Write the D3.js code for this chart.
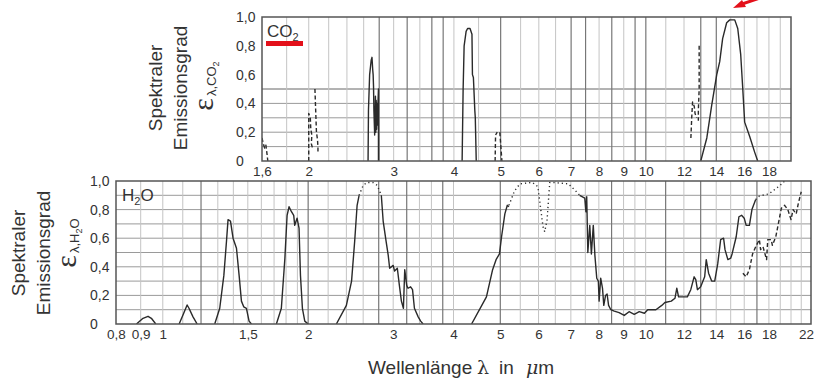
<!DOCTYPE html>
<html>
<head>
<meta charset="utf-8">
<script src="https://cdn.jsdelivr.net/npm/d3@7/dist/d3.min.js"></script>
<style>
  body { margin: 0; background: #fff; }
  svg text { font-family: Arial, "Liberation Sans", sans-serif; fill: #333; }
</style>
</head>
<body>
<svg id="chart" width="817" height="380"></svg>
<script>
// --- tick labels ---
const co2TicksX = [1.6, 2, 3, 4, 5, 6, 7, 8, 9, 10, 12, 14, 16, 18];
const h2oTicksX = [0.8, 0.9, 1, 1.5, 2, 3, 4, 5, 6, 7, 8, 9, 10, 12, 14, 16, 18, 22];
const ticksY = [0, 0.2, 0.4, 0.6, 0.8, 1.0];

// --- grid lines ---
const co2GridX = [1.8, 2, 2.2, 2.4, 2.6, 2.8, 3, 3.2, 3.4, 3.6, 3.8, 4, 4.5, 5, 5.5, 6, 6.5, 7, 7.5, 8, 8.5, 9, 9.5, 10, 11, 12, 13, 14, 15, 16, 17, 18, 19];
const co2GridDark = [2.8, 3.2, 3.6, 3.8, 5, 7, 7.5, 8.5, 9.5, 10, 13, 14];
const co2GridY = [0.1, 0.2, 0.3, 0.4, 0.5];
const h2oGridX = [0.9, 1, 1.1, 1.2, 1.3, 1.4, 1.5, 1.6, 1.7, 1.8, 1.9, 2, 2.2, 2.4, 2.6, 2.8, 3, 3.2, 3.4, 3.6, 3.8, 4, 5, 5.5, 6, 6.5, 7, 7.5, 8, 8.5, 9, 9.5, 10, 11, 12, 13, 14, 15, 16, 17, 18, 19, 20, 21];
const h2oGridDark = [1.2, 2, 2.8, 3.2, 3.8, 5, 8.5, 11, 13, 17];
const h2oGridY = [0.1, 0.2, 0.3, 0.4, 0.5, 0.6, 0.7, 0.8, 0.9];

// --- CO2 spectral emissivity [lambda µm, eps] ---
const co2Band27 = [[2.655, 0], [2.66, 0.35], [2.675, 0.6], [2.695, 0.7], [2.705, 0.72], [2.715, 0.63], [2.72, 0.6], [2.725, 0.52],
  [2.73, 0.35], [2.74, 0.18], [2.745, 0.3], [2.75, 0.45], [2.755, 0.2], [2.76, 0.42], [2.765, 0.22], [2.77, 0.4],
  [2.775, 0.25], [2.78, 0.35], [2.79, 0.5], [2.79, 0]];
const co2Band43 = [[4.16, 0], [4.18, 0.5], [4.2, 0.8], [4.24, 0.9], [4.27, 0.92], [4.32, 0.92], [4.36, 0.88], [4.37, 0.6],
  [4.39, 0.58], [4.42, 0.35], [4.43, 0.3], [4.45, 0]];
const co2Band15 = [[13.0, 0], [13.38, 0.16], [13.7, 0.39], [14.03, 0.6], [14.23, 0.69], [14.43, 0.85], [14.71, 0.96],
  [14.93, 0.98], [15.29, 0.98], [15.51, 0.92], [15.73, 0.74], [15.88, 0.51], [16.03, 0.27], [16.42, 0.17],
  [16.82, 0.06], [17.06, 0]];
const co2Dash16 = [[1.6, 0.16], [1.61, 0.12], [1.62, 0.09], [1.63, 0.11], [1.64, 0.04], [1.645, 0]];
const co2Dash20a = [[2.0, 0], [2.0, 0.33], [2.015, 0.3], [2.02, 0.22], [2.03, 0.18], [2.025, 0.12], [2.04, 0.08]];
const co2Dash20b = [[2.06, 0.5], [2.065, 0.4], [2.07, 0.3], [2.075, 0.2], [2.085, 0.15], [2.09, 0.1], [2.09, 0.05]];
const co2Dash49a = [[4.87, 0], [4.88, 0.18], [4.92, 0.2]];
const co2Dash49b = [[4.98, 0.2], [5.0, 0.12], [5.03, 0]];
const co2Dash12a = [[12.4, 0.16], [12.45, 0.3], [12.5, 0.41], [12.6, 0.38], [12.65, 0.33], [12.75, 0.3]];
const co2Dash12b = [[12.9, 0.8], [12.9, 0.5], [12.85, 0.35], [12.85, 0.28]];

// --- H2O spectral emissivity ---
const h2oBand09 = [[0.882, 0], [0.91, 0.04], [0.932, 0.054], [0.947, 0.04], [0.967, 0]];
const h2oBand11 = [[1.081, 0], [1.101, 0.063], [1.123, 0.133], [1.133, 0.11], [1.155, 0.05], [1.178, 0]];
const h2oBand14 = [[1.281, 0], [1.312, 0.11], [1.338, 0.34], [1.355, 0.58], [1.365, 0.73], [1.381, 0.72], [1.398, 0.6],
  [1.421, 0.53], [1.439, 0.34], [1.455, 0.16], [1.471, 0.12], [1.49, 0.11], [1.509, 0.02], [1.526, 0]];
const h2oBand19 = [[1.719, 0], [1.76, 0.11], [1.79, 0.46], [1.809, 0.76], [1.826, 0.82], [1.847, 0.785], [1.867, 0.76],
  [1.876, 0.69], [1.897, 0.74], [1.915, 0.67], [1.928, 0.34], [1.946, 0.11], [1.968, 0.02], [2.0, 0]];
const h2oBand27a = [[2.288, 0], [2.4, 0.13], [2.46, 0.3], [2.497, 0.58], [2.526, 0.83], [2.55, 0.9]];
const h2oBand27dot = [[2.55, 0.9], [2.6, 0.97], [2.65, 0.99], [2.72, 0.99], [2.78, 0.97], [2.835, 0.9]];
const h2oBand27b = [[2.835, 0.9], [2.86, 0.72], [2.9, 0.58], [2.93, 0.48], [2.95, 0.39], [3.0, 0.41], [3.02, 0.37],
  [3.06, 0.39], [3.09, 0.27], [3.12, 0.16], [3.15, 0.11], [3.17, 0.38], [3.2, 0.27], [3.22, 0.25], [3.26, 0.26],
  [3.29, 0.24], [3.32, 0.11], [3.38, 0.05], [3.42, 0.02], [3.46, 0]];
const h2oBand63a = [[4.36, 0], [4.68, 0.19], [4.82, 0.38], [4.9, 0.45], [4.98, 0.49], [5.03, 0.61], [5.11, 0.77],
  [5.17, 0.83], [5.21, 0.82]];
const h2oBand63dot = [[5.21, 0.83], [5.35, 0.93], [5.49, 0.98], [5.83, 0.99], [5.98, 0.96], [6.13, 0.68], [6.18, 0.645],
  [6.25, 0.73], [6.33, 0.99], [6.43, 0.99], [6.92, 0.98], [7.19, 0.925], [7.3, 0.9]];
const h2oBand63b = [[7.3, 0.9], [7.48, 0.88], [7.52, 0.785], [7.55, 0.89], [7.59, 0.5], [7.66, 0.69], [7.72, 0.49],
  [7.79, 0.69], [7.85, 0.48], [7.92, 0.32], [7.98, 0.3], [8.01, 0.16], [8.07, 0.32], [8.14, 0.25], [8.19, 0.13],
  [8.26, 0.2], [8.32, 0.21], [8.38, 0.13], [8.47, 0.1], [8.61, 0.09], [8.81, 0.08], [9.03, 0.06], [9.24, 0.086],
  [9.47, 0.068], [9.7, 0.086], [9.94, 0.075], [10.1, 0.1], [10.5, 0.1], [10.8, 0.13], [10.96, 0.15], [11.3, 0.16],
  [11.5, 0.18], [11.6, 0.25], [11.7, 0.19], [12.2, 0.19], [12.4, 0.24], [12.6, 0.33], [12.7, 0.31], [12.8, 0.24],
  [13.0, 0.26], [13.25, 0.33], [13.35, 0.45], [13.5, 0.355], [13.7, 0.3], [13.9, 0.3], [14.1, 0.42], [14.3, 0.59],
  [14.5, 0.6], [14.6, 0.52], [14.8, 0.45], [15.0, 0.46], [15.1, 0.49], [15.4, 0.61], [15.6, 0.75], [15.8, 0.76],
  [16.0, 0.74], [16.15, 0.69], [16.4, 0.69], [16.6, 0.8], [16.9, 0.87]];
const h2oBand63dot2 = [[16.9, 0.87], [17.2, 0.895], [18.0, 0.91], [19.0, 0.97], [19.4, 1.0]];
const h2oDash = [[15.9, 0.355], [16.15, 0.33], [16.4, 0.38], [16.65, 0.49], [16.9, 0.54], [17.2, 0.59], [17.3, 0.52],
  [17.5, 0.54], [17.8, 0.45], [17.9, 0.59], [18.2, 0.59], [18.3, 0.55], [18.6, 0.61], [18.9, 0.73], [19.1, 0.81],
  [19.4, 0.83], [19.7, 0.8], [20.0, 0.73], [20.2, 0.8], [20.5, 0.77], [20.7, 0.84], [21.0, 0.925]];

const svg = d3.select('svg#chart');
const fmt = d => String(d).replace('.', ',');
const fmtY = d => d === 0 ? '0' : d3.format('.1f')(d).replace('.', ',');

function drawPanel(p) {
  const x = d3.scaleLog().domain(p.domain).range(p.rangeX);
  const y = d3.scaleLinear().domain([0, 1]).range(p.rangeY);
  const g = svg.append('g');
  const [x0, x1] = p.rangeX, [y0, y1] = [p.rangeY[1], p.rangeY[0]];

  g.append('clipPath').attr('id', p.id + 'clip')
    .append('rect').attr('x', x0).attr('y', y0).attr('width', x1 - x0).attr('height', y1 - y0);

  // grid
  g.selectAll('line.gy').data(p.gridY).enter().append('line')
    .attr('x1', x0).attr('x2', x1)
    .attr('y1', d => y(d)).attr('y2', d => y(d))
    .attr('stroke', d => d === 0.5 && p.id === 'co2' ? '#666' : '#9a9a9a')
    .attr('stroke-width', 1);
  g.selectAll('line.gx').data(p.gridX).enter().append('line')
    .attr('x1', d => x(d)).attr('x2', d => x(d))
    .attr('y1', y0).attr('y2', y1)
    .attr('stroke', d => p.dark.includes(d) ? '#777' : '#c4c4c4')
    .attr('stroke-width', d => p.dark.includes(d) ? 1.2 : 1);

  // curves
  const line = d3.line().x(d => x(d[0])).y(d => y(d[1]));
  const curves = g.append('g').attr('clip-path', 'url(#' + p.id + 'clip)');
  p.series.forEach(s => {
    curves.append('path')
      .attr('d', line(s.data))
      .attr('fill', 'none')
      .attr('stroke', '#2a2a2a')
      .attr('stroke-width', 1.4)
      .attr('stroke-linejoin', 'round')
      .attr('stroke-dasharray', s.style === 'dash' ? '4,2.5' : s.style === 'dot' ? '1.2,3' : null);
  });

  // frame
  g.append('rect')
    .attr('x', x0).attr('y', y0).attr('width', x1 - x0).attr('height', y1 - y0)
    .attr('fill', 'none').attr('stroke', '#555').attr('stroke-width', 1.5);

  // x axis labels
  const ax = g.append('g')
    .attr('transform', 'translate(0,' + (y1 + 2) + ')')
    .call(d3.axisBottom(x).tickValues(p.ticks).tickFormat(fmt).tickSize(0));
  ax.select('.domain').remove();
  ax.selectAll('text').attr('font-size', 13.5).attr('fill', '#333')
    .attr('dx', d => d === 22 ? -5 : 0);

  // y axis labels
  const ay = g.append('g')
    .attr('transform', 'translate(' + p.yLabelX + ',0)')
    .call(d3.axisLeft(y).tickValues(ticksY).tickFormat(fmtY).tickSize(0));
  ay.select('.domain').remove();
  ay.selectAll('text').attr('text-anchor', 'start').attr('x', 0)
    .attr('font-size', 14).attr('fill', '#333');

  // y title
  const t = g.append('g').attr('font-size', 19);
  t.append('text').attr('text-anchor', 'middle')
    .attr('transform', 'translate(' + (p.titleX + 6) + ',' + p.titleY + ') rotate(-90)')
    .text('Spektraler');
  t.append('text').attr('text-anchor', 'middle')
    .attr('transform', 'translate(' + (p.titleX + 31) + ',' + p.titleY + ') rotate(-90)')
    .text('Emissionsgrad');
  const eps = t.append('text').attr('text-anchor', 'middle')
    .attr('transform', 'translate(' + (p.titleX + 57) + ',' + p.epsY + ') rotate(-90)');
  eps.append('tspan').attr('font-size', 30).attr('font-family', '"Liberation Serif", serif').text('ε');
  eps.append('tspan').attr('font-size', 13).attr('dx', 2).attr('dy', 3).text('λ,' + p.gas[0]);
  eps.append('tspan').attr('font-size', 9).attr('dy', 3).text(p.gas[1]);
  eps.append('tspan').attr('font-size', 13).attr('dy', -3).text(p.gas[2]);

  return { x, y, g };
}

drawPanel({
  id: 'co2', domain: [1.6, 20], rangeX: [262, 791], rangeY: [161, 17],
  gridX: co2GridX, dark: co2GridDark, gridY: co2GridY, ticks: co2TicksX,
  yLabelX: 236, titleX: 156, titleY: 88, epsY: 86, gas: ['CO', '2', ''],
  series: [
    { data: co2Band27 }, { data: co2Band43 }, { data: co2Band15 },
    { data: co2Dash16, style: 'dash' }, { data: co2Dash20a, style: 'dash' }, { data: co2Dash20b, style: 'dash' },
    { data: co2Dash49a, style: 'dash' }, { data: co2Dash49b, style: 'dash' },
    { data: co2Dash12a, style: 'dash' }, { data: co2Dash12b, style: 'dash' }
  ]
});

drawPanel({
  id: 'h2o', domain: [0.8, 22], rangeX: [116, 811], rangeY: [324, 181],
  gridX: h2oGridX, dark: h2oGridDark, gridY: h2oGridY, ticks: h2oTicksX,
  yLabelX: 90, titleX: 19, titleY: 253, epsY: 243, gas: ['H', '2', 'O'],
  series: [
    { data: h2oBand09 }, { data: h2oBand11 }, { data: h2oBand14 }, { data: h2oBand19 },
    { data: h2oBand27a }, { data: h2oBand27dot, style: 'dot' }, { data: h2oBand27b },
    { data: h2oBand63a }, { data: h2oBand63dot, style: 'dot' }, { data: h2oBand63b },
    { data: h2oBand63dot2, style: 'dot' }, { data: h2oDash, style: 'dash' }
  ]
});

// gas labels
const co2Label = svg.append('text').attr('x', 267).attr('y', 37).attr('font-size', 17);
co2Label.append('tspan').text('CO');
co2Label.append('tspan').attr('font-size', 11).attr('dy', 4).text('2');
svg.append('rect').attr('x', 266).attr('y', 41).attr('width', 37).attr('height', 5).attr('fill', '#e3101a');

const h2oLabel = svg.append('text').attr('x', 122).attr('y', 201).attr('font-size', 17);
h2oLabel.append('tspan').text('H');
h2oLabel.append('tspan').attr('font-size', 11).attr('dy', 4).text('2');
h2oLabel.append('tspan').attr('dy', -4).text('O');

// x title
const xt = svg.append('text').attr('y', 374).attr('font-size', 19);
xt.append('tspan').attr('x', 368).text('Wellenlänge');
xt.append('tspan').attr('x', 477).attr('font-family', '"DejaVu Serif", serif').text('λ');
xt.append('tspan').attr('x', 499).text('in');
xt.append('tspan').attr('x', 526).attr('font-family', '"DejaVu Serif", serif').attr('font-style', 'italic').text('μ');
xt.append('tspan').text('m');

// red arrow at the top edge
svg.append('line').attr('x1', 760).attr('y1', -2).attr('x2', 742).attr('y2', 4)
  .attr('stroke', '#e3101a').attr('stroke-width', 3);
svg.append('path').attr('d', 'M733,8 L742,0 L746,7 Z').attr('fill', '#e3101a');
</script>
</body>
</html>
